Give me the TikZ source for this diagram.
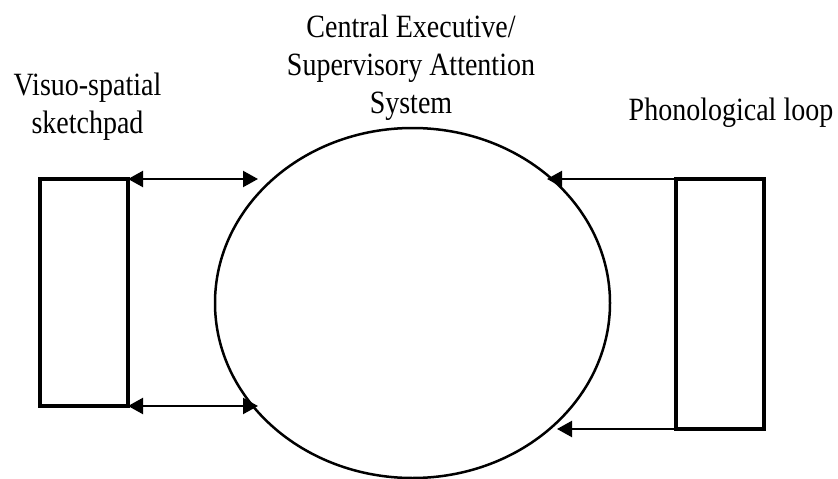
\documentclass[tikz,border=0pt]{standalone}
\usepackage{fontspec}
\setmainfont{Liberation Serif}
\usepackage{graphicx}
\usetikzlibrary{arrows.meta,shapes.geometric}
\newcommand{\tallbox}[1]{\scalebox{1}[1.16]{\begin{tabular}[t]{@{}c@{}}#1\end{tabular}}}
\begin{document}
\begin{tikzpicture}[x=1pt, y=-1pt, >={Triangle[length=15pt,width=16pt]},
		store/.style={draw, line width=3.5pt, inner sep=0, outer sep=0, minimum width=88pt},
		caption/.style={anchor=base, inner sep=0, font=\fontsize{28}{32.8}\selectfont}]
			\useasboundingbox (0,0) rectangle (838,479);
			\node[store, minimum height=227pt] (vsp) at (84,292.5) {};
			\node[store, minimum height=250pt] (pl) at (720,304) {};
			\node[draw, ellipse, line width=2.5pt, inner sep=0, minimum width=395pt, minimum height=350pt] (ces) at (412.5,303) {};
			\node[caption] (vsp-label) at (87.5,95) {\tallbox{Visuo-spatial\\sketchpad}};
			\node[caption] (ces-label) at (411,37) {\tallbox{Central Executive/\\Supervisory Attention\\System}};
			\node[caption] (pl-label) at (731,120) {\tallbox{Phonological loop}};
			\coordinate (vsp-top) at (258,179);
			\coordinate (vsp-bot) at (258,406);
			\coordinate (pl-top) at (547,179);
			\coordinate (pl-bot) at (557,429);
			\draw[line width=2.2pt, <->] (vsp.north east) -- (vsp-top);
			\draw[line width=2.2pt, <->] (vsp.south east) -- (vsp-bot);
			\draw[line width=2.2pt, ->] (pl.north west) -- (pl-top);
			\draw[line width=2.2pt, ->] (pl.south west) -- (pl-bot);
		\end{tikzpicture}
\end{document}
